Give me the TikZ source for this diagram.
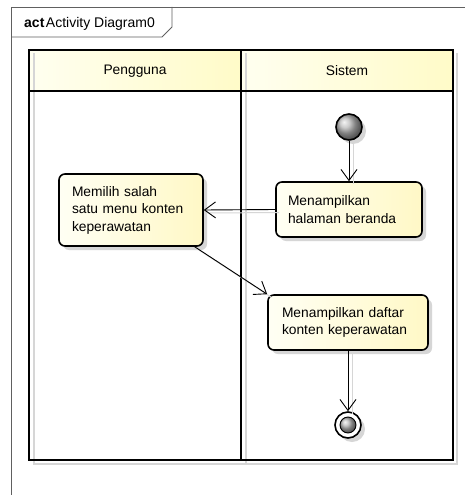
\documentclass[tikz,border=0pt]{standalone}
\usepackage{fontspec}
\setmainfont{Liberation Sans}
\usetikzlibrary{arrows.meta,calc,shadows}

\definecolor{frameline}{HTML}{606060}
\definecolor{actlight}{HTML}{FFFFF4}
\definecolor{actdark}{HTML}{FFF8C6}
\definecolor{headlight}{HTML}{FFFFF0}
\definecolor{headdark}{HTML}{FFFBC8}
\definecolor{shadowgray}{HTML}{D6D6D6}

\tikzset{
  umltext/.style={font=\fontsize{13.8}{17.5}\selectfont},
  action/.style={umltext, draw, line width=1.6pt, rounded corners=6pt,
    left color=actlight, right color=actdark, align=left,
    inner ysep=2pt,
    drop shadow={shadow xshift=4pt, shadow yshift=-4pt, fill=shadowgray, opacity=1}},
  flow/.style={draw=black, line width=0.9pt,
    -{Straight Barb[length=11pt,width=16pt,line width=0.9pt]}},
  flowshadow/.style={draw=shadowgray, line width=1pt,
    transform canvas={shift={(4,3)}}},
  lane/.style={line width=2pt},
  lanehead/.style={left color=headlight, right color=headdark},
  pseudo/.style={circle, draw, line width=1.6pt, minimum size=26pt, inner sep=0,
    drop shadow={shadow xshift=4pt, shadow yshift=-4pt, fill=shadowgray, opacity=1}},
}

\begin{document}
\begin{tikzpicture}[x=1pt,y=-1pt]
\useasboundingbox[fill=white] (0,0) rectangle (465,495);

% diagram frame with its name tab
\draw[frameline, line width=0.9pt] (11,495) -- (11,7) -- (465,7);
\draw[frameline, line width=0.9pt] (11,37) -- (162,37) -- (172,27) -- (172,7);
\node[anchor=west, inner sep=0, font=\fontsize{14}{17}\selectfont] (title) at (24,24)
  {\textbf{act}\hspace{1.5pt}Activity Diagram0};

% swimlane shadows
\draw[shadowgray, line width=1.2pt] (34,53) -- (34,464) -- (457,464) -- (457,53);
\draw[shadowgray, line width=1.2pt] (246,53) -- (246,464);

% swimlane headers
\fill[lanehead] (29,50) rectangle (241,91);
\fill[lanehead] (241,50) rectangle (453,91);
\draw[shadowgray, line width=1.2pt] (34,53) -- (34,91);
\draw[shadowgray, line width=1.2pt] (246,53) -- (246,91);
\node[umltext] (userlane) at (135,71) {Pengguna};
\node[umltext] (syslane) at (347,71) {Sistem};

% swimlane borders
\draw[lane] (29,50) rectangle (453,460);
\draw[lane] (29,91) -- (453,91);
\draw[lane] (241,50) -- (241,460);

% initial and final nodes
\node[pseudo, ball color=gray!55] (start) at (349,127) {};
\node[pseudo, fill=white] (final) at (348,425) {};
\node[circle, draw, line width=0.9pt, minimum size=16pt, inner sep=0,
  ball color=gray!55] (finalcore) at (final.center) {};

% actions
\node[action, text width=122pt, inner xsep=12pt, minimum height=55pt]
  (beranda) at (349,209.5) {Menampilkan\\halaman beranda};
\node[action, text width=118pt, inner xsep=13pt, minimum height=72pt]
  (memilih) at (131,210) {Memilih salah\\satu menu konten\\keperawatan};
\node[action, text width=132pt, inner xsep=14pt, minimum height=55pt]
  (daftar) at (348,322.5) {Menampilkan daftar\\konten keperawatan};

% control flows
\draw[flowshadow] (start.south) -- (beranda.north);
\draw[flowshadow] (beranda.west) -- (memilih.east);
\draw[flowshadow] (memilih.-30) -- (daftar.north west);
\draw[flowshadow] (daftar.south) -- (final.north);

\draw[flow] (start.south) -- (beranda.north);
\draw[flow] (beranda.west) -- (memilih.east);
\draw[flow] (memilih.-30) -- (daftar.north west);
\draw[flow] (daftar.south) -- (final.north);
\end{tikzpicture}
\end{document}
